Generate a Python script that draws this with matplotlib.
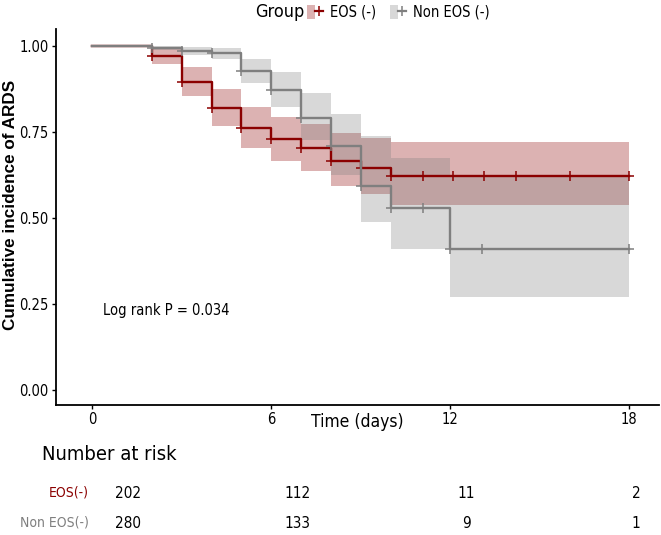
import matplotlib
matplotlib.use("Agg")
import matplotlib.pyplot as plt
from matplotlib.patches import Patch
from matplotlib.lines import Line2D
from matplotlib.legend_handler import HandlerTuple
from matplotlib import font_manager as fm
import numpy as np

# ---- data ----
groups = ["EOS (-)", "Non EOS (-)"]
risk_labels = ["EOS(-)", "Non EOS(-)"]
t_end = 18

eos_time = [0, 2, 3, 4, 5, 6, 7, 8, 9, 10]
eos_surv = [1.0, 0.972, 0.896, 0.821, 0.761, 0.729, 0.703, 0.667, 0.647, 0.623]
eos_lower = [1.0, 0.948, 0.855, 0.769, 0.704, 0.667, 0.637, 0.594, 0.570, 0.537]
eos_upper = [1.0, 0.991, 0.938, 0.874, 0.823, 0.794, 0.773, 0.746, 0.733, 0.722]
eos_censor = [2, 3, 4, 5, 6, 7, 8, 9, 10, 11.1, 12.1, 13.15, 14.2, 16.0, 18]

non_time = [0, 2, 3, 4, 5, 6, 7, 8, 9, 10, 12]
non_surv = [1.0, 0.996, 0.986, 0.979, 0.927, 0.872, 0.792, 0.710, 0.592, 0.528, 0.411]
non_lower = [1.0, 0.988, 0.975, 0.964, 0.893, 0.824, 0.727, 0.625, 0.489, 0.411, 0.269]
non_upper = [1.0, 1.0, 0.998, 0.996, 0.962, 0.924, 0.863, 0.802, 0.738, 0.675, 0.620]
non_censor = [2, 3, 4, 5, 6, 7, 8, 9, 10, 11.1, 12, 13.05, 18]

risk_times = [0, 6, 12, 18]
eos_risk = [202, 112, 11, 2]
non_risk = [280, 133, 9, 1]

x_ticks = [0, 6, 12, 18]
y_ticks = [0.00, 0.25, 0.50, 0.75, 1.00]
y_ticklabels = ["0.00", "0.25", "0.50", "0.75", "1.00"]

colors = ["#8B0000", "#7F7F7F"]

# condensed font if available
cond_path = None
for f in fm.findSystemFonts():
    if f.endswith("DejaVuSansCondensed.ttf"):
        cond_path = f
        break

def NF(size):
    if cond_path:
        return fm.FontProperties(fname=cond_path, size=size)
    return fm.FontProperties(family="Liberation Sans", size=size)

BOLDF = fm.FontProperties(family=["Liberation Sans", "DejaVu Sans"],
                          weight="bold", size=12.3)

W, H = 661, 535
fig = plt.figure(figsize=(W / 100, H / 100), dpi=100)

def fx(px):
    return px / W

def fy(py):
    return 1 - py / H

left, right, top, bottom = 55.5, 659, 29, 405
ax = fig.add_axes([fx(left), fy(bottom), fx(right - left), (bottom - top) / H])
ax.set_xlim(-1.23, 19.0)
ax.set_ylim(-0.044, 1.05)

def series(time, surv, lower, upper, censor, color):
    t = list(time) + [t_end]
    s = list(surv) + [surv[-1]]
    lo = list(lower) + [lower[-1]]
    up = list(upper) + [upper[-1]]
    ax.fill_between(t, lo, up, step="post", color=color, alpha=0.3, linewidth=0)
    ax.step(t, s, where="post", color=color, linewidth=1.7)
    tt = np.array(time)
    cs = [surv[np.searchsorted(tt, c, side="right") - 1] for c in censor]
    ax.plot(censor, cs, linestyle="none", marker="+", markersize=7,
            markeredgewidth=1.1, color=color)

series(eos_time, eos_surv, eos_lower, eos_upper, eos_censor, colors[0])
series(non_time, non_surv, non_lower, non_upper, non_censor, colors[1])

for s in ["top", "right"]:
    ax.spines[s].set_visible(False)
for s in ["left", "bottom"]:
    ax.spines[s].set_linewidth(1.3)
    ax.spines[s].set_color("black")

ax.set_xticks(x_ticks)
ax.set_xticklabels([str(v) for v in x_ticks], fontproperties=NF(10.5))
ax.set_yticks(y_ticks)
ax.set_yticklabels(y_ticklabels, fontproperties=NF(10.5))
ax.tick_params(direction="out", length=3, width=1, colors="black", pad=2)

fig.text(fx(11), fy(205), "Cumulative incidence of ARDS", fontproperties=BOLDF,
         rotation=90, ha="center", va="center")

fig.text(fx(357), fy(422), "Time (days)", fontproperties=NF(12.5),
         ha="center", va="center")
fig.text(fx(103), fy(310), "Log rank P = 0.034", fontproperties=NF(10.5),
         ha="left", va="center")

# legend
fig.text(fx(255), fy(12), "Group", fontproperties=NF(13),
         ha="left", va="center")
handles = []
for c in colors:
    handles.append((Patch(facecolor=c, alpha=0.3, edgecolor="none"),
                    Line2D([0], [0], color=c, linewidth=1.6, marker="+",
                           markersize=7, markeredgewidth=1.1)))
leg = fig.legend(handles, groups, ncol=2, loc="center left",
                 bbox_to_anchor=(fx(307), fy(12)), frameon=False,
                 handler_map={tuple: HandlerTuple(ndivide=None, pad=0)},
                 handlelength=1.1, handleheight=1.1, handletextpad=0.5,
                 columnspacing=0.9, borderpad=0, borderaxespad=0,
                 prop=NF(10.5))

# risk table
rax = fig.add_axes([0, 0, 1, 1], facecolor="none")
rax.axis("off")
x0, x18 = 128, 636
scale = (x18 - x0) / 18
rax.set_xlim(-x0 / scale, (W - x0) / scale)
rax.set_ylim(H, 0)
fig.text(fx(42), fy(455), "Number at risk", fontproperties=NF(14.5),
         ha="left", va="center")
rows_y = [493, 523]
for i, (lab, vals) in enumerate(zip(risk_labels, [eos_risk, non_risk])):
    fig.text(fx(89), fy(rows_y[i]), lab, fontproperties=NF(10),
             color=colors[i], ha="right", va="center")
    for t, v in zip(risk_times, vals):
        rax.text(t, rows_y[i], str(v), fontproperties=NF(11),
                 ha="center", va="center", color="black")

fig.savefig("out.png", dpi=100)
